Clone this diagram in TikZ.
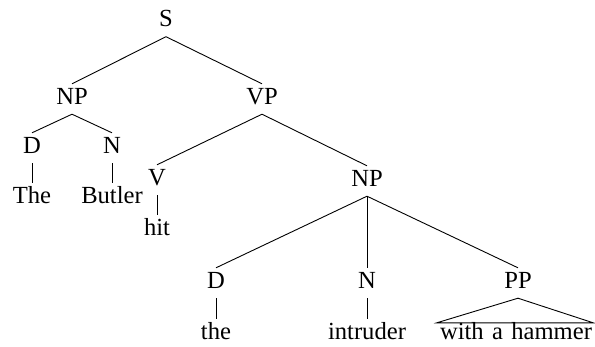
\documentclass[tikz,border=0pt]{standalone}
\usepackage{fontspec}
\setmainfont{Liberation Serif}
\begin{document}
\begin{tikzpicture}[x=1pt,y=-1pt,
  lab/.style={anchor=base,inner sep=0pt,text height=20pt,text depth=10pt,font=\fontsize{24.6}{28}\selectfont},
  edge/.style={line width=0.9pt}]
\useasboundingbox (0,0) rectangle (595,346);
\node[lab] (s)   at (166,26.5) {S};
\node[lab] (np1) at (72,104) {NP};
\node[lab] (vp)  at (262,104) {VP};
\node[lab] (d1)  at (32,153) {D};
\node[lab] (n1)  at (112,153) {N};
\node[lab] (the1) at (32,203) {The};
\node[lab] (butler) at (112,203) {Butler};
\node[lab] (v)   at (157,185) {V};
\node[lab] (hit) at (157,235) {hit};
\node[lab] (np2) at (367,186) {NP};
\node[lab] (d2)  at (216,288) {D};
\node[lab] (n2)  at (367,288) {N};
\node[lab] (pp)  at (518,288) {PP};
\node[lab] (the2) at (216,339) {the};
\node[lab] (intruder) at (367,339) {intruder};
\node[lab] (wah) at (516,339) {with\hspace{0.34em}a\hspace{0.34em}hammer};
\draw[edge] (s.south) -- (np1.north);
\draw[edge] (s.south) -- (vp.north);
\draw[edge] (np1.south) -- (d1.north);
\draw[edge] (np1.south) -- (n1.north);
\draw[edge] (d1.south) -- (the1.north);
\draw[edge] (n1.south) -- (butler.north);
\draw[edge] (vp.south) -- (v.north);
\draw[edge] (vp.south) -- (np2.north);
\draw[edge] (v.south) -- (hit.north);
\draw[edge] (np2.south) -- (d2.north);
\draw[edge] (np2.south) -- (n2.north);
\draw[edge] (np2.south) -- (pp.north);
\draw[edge] (d2.south) -- (the2.north);
\draw[edge] (n2.south) -- (intruder.north);
\draw[edge] (pp.south) -- ([xshift=-3pt,yshift=-4pt]wah.north west) -- ([xshift=1pt,yshift=-4pt]wah.north east) -- cycle;
\end{tikzpicture}
\end{document}
